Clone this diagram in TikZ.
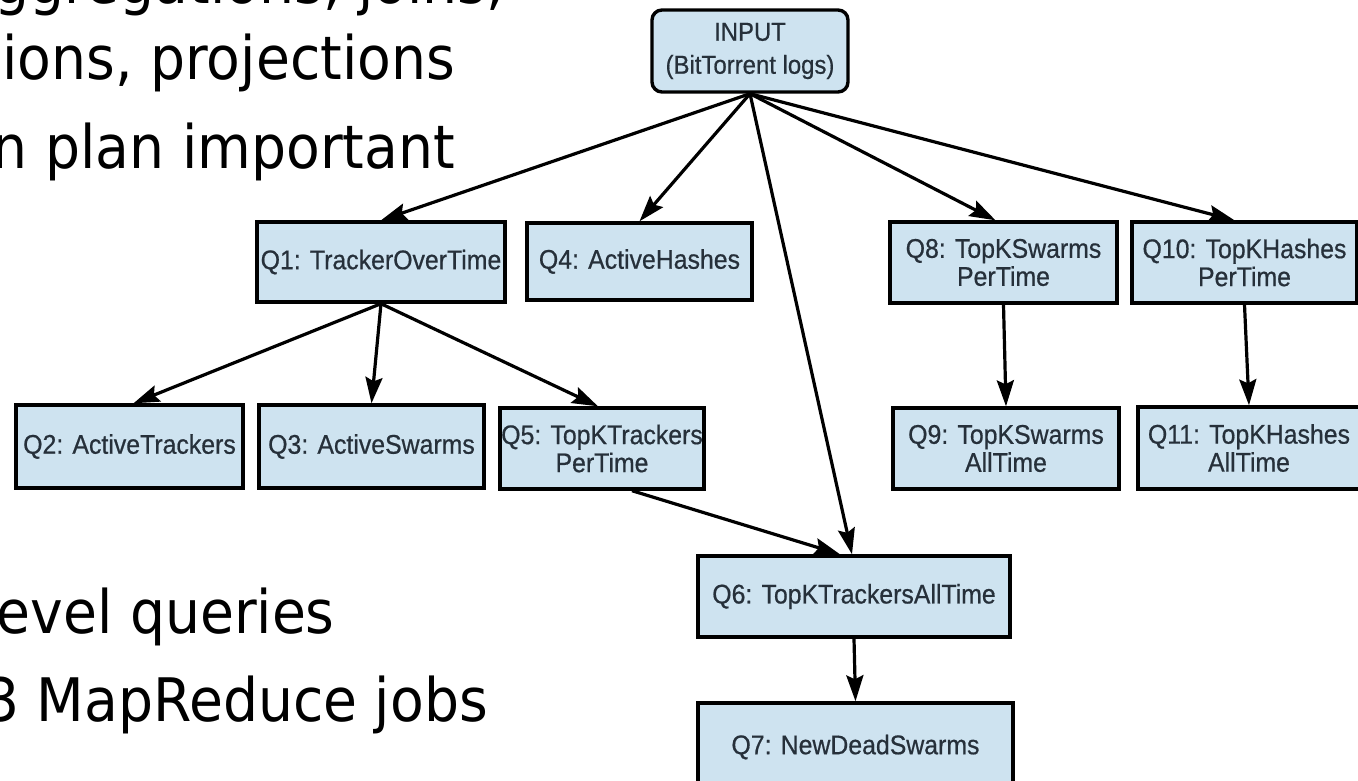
\documentclass[tikz,border=0pt]{standalone}
\usepackage{fontspec}
\usetikzlibrary{arrows.meta,calc}
\newfontfamily\boxfont[FakeStretch=0.92,FakeBold=0.6]{Liberation Sans}
\newfontfamily\slidefont[FakeStretch=0.92]{DejaVu Sans}
\definecolor{boxfill}{RGB}{206,227,240}
\definecolor{boxtext}{RGB}{38,48,58}

\begin{document}
\begin{tikzpicture}[x=1pt,y=-1pt,
  qbox/.style={draw=black, line width=3.4pt, fill=boxfill, text=boxtext,
    inner sep=0pt, align=center, font=\boxfont\fontsize{27}{28}\selectfont},
  link/.style={line width=3.2pt, -{Stealth[length=26pt,width=17pt,inset=4pt]}},
  slide/.style={anchor=base east, inner sep=0pt, text=black,
    font=\slidefont\fontsize{60}{72}\selectfont}]
\useasboundingbox (0,0) rectangle (1358,781);
\clip (0,0) rectangle (1358,781);
\fill[white] (0,0) rectangle (1358,781);

% bullet text on the left
\node[slide] (t1) at (504,4)   {ggregations, joins,};
\node[slide] (t2) at (455,80)  {ions, projections};
\node[slide] (t3) at (455,168) {n plan important};
\node[slide] (t4) at (335,633) {evel queries};
\node[slide] (t5) at (488,721) {3 MapReduce jobs};

% query nodes
\node[qbox, rounded corners=10pt, minimum width=196pt, minimum height=82pt,
      font=\boxfont\fontsize{26}{33}\selectfont] (in) at (750,51) {INPUT\\(BitTorrent logs)};
\node[qbox, minimum width=248pt, minimum height=80pt] (q1)  at (381,262)    {Q1: TrackerOverTime};
\node[qbox, minimum width=225pt, minimum height=77pt] (q4)  at (639.5,261.5) {Q4: ActiveHashes};
\node[qbox, minimum width=227pt, minimum height=81pt] (q8)  at (1003.5,262.5) {Q8: TopKSwarms\\PerTime};
\node[qbox, minimum width=225pt, minimum height=81pt] (q10) at (1244.5,262.5) {Q10: TopKHashes\\PerTime};
\node[qbox, minimum width=227pt, minimum height=83pt] (q2)  at (129.5,446.5) {Q2: ActiveTrackers};
\node[qbox, minimum width=225pt, minimum height=83pt] (q3)  at (371.5,446.5) {Q3: ActiveSwarms};
\node[qbox, minimum width=204pt, minimum height=81pt] (q5)  at (602,448.5)   {Q5: TopKTrackers\\PerTime};
\node[qbox, minimum width=226pt, minimum height=81pt] (q9)  at (1006,448.5)  {Q9: TopKSwarms\\AllTime};
\node[qbox, minimum width=222pt, minimum height=82pt] (q11) at (1249,448)    {Q11: TopKHashes\\AllTime};
\node[qbox, minimum width=312pt, minimum height=81pt] (q6)  at (854,596.5)   {Q6: TopKTrackersAllTime};
\node[qbox, minimum width=315pt, minimum height=88pt] (q7)  at (855.5,747)   {Q7: NewDeadSwarms};

% dependencies
\draw[link] (in.south) -- (q1.north);
\draw[link] (in.south) -- (q4.north);
\draw[link] (in.south) -- ([xshift=-2pt]q6.north);
\draw[link] (in.south) -- ([xshift=-8pt]q8.north);
\draw[link] (in.south) -- ([xshift=-10pt]q10.north);
\draw[link] (q1.south) -- ([xshift=4pt]q2.north);
\draw[link] (q1.south) -- (q3.north);
\draw[link] (q1.south) -- ([xshift=-4pt]q5.north);
\draw[link] ([xshift=30pt]q5.south) -- ([xshift=-14pt]q6.north);
\draw[link] (q8.south) -- (q9.north);
\draw[link] (q10.south) -- (q11.north);
\draw[link] (q6.south) -- (q7.north);
\end{tikzpicture}
\end{document}
